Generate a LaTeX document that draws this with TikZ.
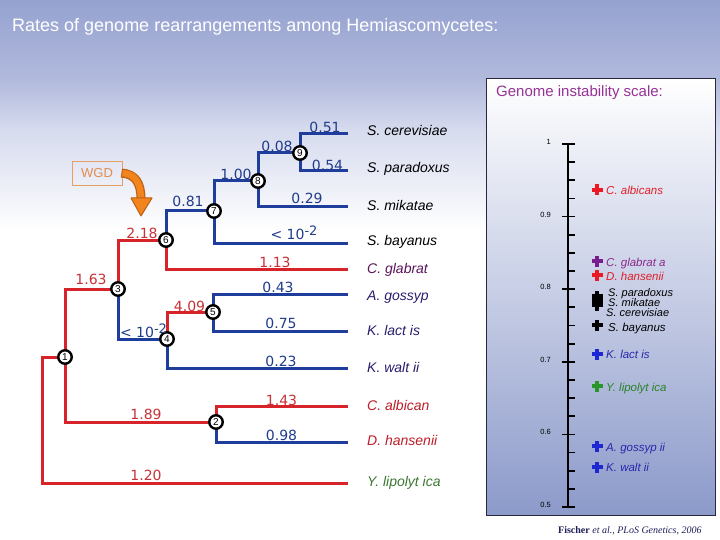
\documentclass[tikz,border=0pt]{standalone}
\usepackage{fontspec}
\setmainfont{Liberation Sans}
\newfontfamily\dvfont{DejaVu Sans}
\newfontfamily\serfont{Liberation Serif}
\definecolor{bgA}{RGB}{149,162,208}
\definecolor{bgB}{RGB}{178,186,221}
\definecolor{bgC}{RGB}{214,219,238}
\definecolor{boxbot}{RGB}{140,154,202}
\definecolor{boxline}{RGB}{40,40,60}
\definecolor{treeblue}{RGB}{31,62,156}
\definecolor{treered}{RGB}{214,36,42}
\definecolor{labblue}{RGB}{32,60,140}
\definecolor{labred}{RGB}{200,50,55}
\definecolor{cpurp}{RGB}{90,20,90}
\definecolor{cnavy}{RGB}{40,30,110}
\definecolor{cred}{RGB}{190,30,40}
\definecolor{cgreen}{RGB}{60,120,50}
\definecolor{titpurp}{RGB}{150,50,150}
\definecolor{mred}{RGB}{235,25,35}
\definecolor{mpurp}{RGB}{120,30,140}
\definecolor{mblue}{RGB}{30,40,210}
\definecolor{mgreen}{RGB}{40,150,40}
\definecolor{slred}{RGB}{225,30,40}
\definecolor{slpurp}{RGB}{140,40,140}
\definecolor{slblue}{RGB}{40,40,170}
\definecolor{slgreen}{RGB}{40,130,40}
\definecolor{fnavy}{RGB}{30,30,90}
\definecolor{wgdtext}{RGB}{225,140,80}
\definecolor{wgdborder}{RGB}{230,160,100}
\definecolor{arrorange}{RGB}{242,132,30}
\definecolor{arrdark}{RGB}{190,95,20}
\pgfdeclarelayer{bglayer}
\pgfdeclarelayer{lines}
\pgfsetlayers{bglayer,lines,main}
\tikzset{
  bl/.style={draw=treeblue, line width=3pt, line cap=rect},
  rd/.style={draw=treered, line width=3pt, line cap=rect},
  nd/.style={circle, draw=black, line width=2.4pt, fill=white, minimum size=13.5pt, inner sep=0pt, font=\fontsize{10}{10}\selectfont},
  blab/.style={font=\dvfont\fontsize{14}{14}\selectfont, text=labblue, anchor=base, inner sep=0pt},
  rlab/.style={font=\dvfont\fontsize{14}{14}\selectfont, text=labred, anchor=base, inner sep=0pt},
  leaf/.style={font=\itshape\fontsize{14}{14}\selectfont, anchor=base west, inner sep=0pt},
  slab/.style={font=\itshape\fontsize{11.5}{11.5}\selectfont, anchor=base west, inner sep=0pt},
  tlab/.style={font=\fontsize{7.5}{7.5}\selectfont, anchor=east, inner sep=0pt},
  pics/plusm/.style={code={
    \fill[#1] (-5.5,-2.3) rectangle (5.5,2.3);
    \fill[#1] (-2.3,-5.5) rectangle (2.3,5.5);}}
}
\begin{document}
\begin{tikzpicture}[x=1pt,y=-1pt]
\useasboundingbox (0,0) rectangle (720,540);
\begin{pgfonlayer}{bglayer}
\fill[top color=bgA, bottom color=bgB] (0,0) rectangle (720,80.5);
\fill[top color=bgB, bottom color=bgC] (0,80) rectangle (720,130.5);
\fill[top color=bgC, bottom color=white] (0,130) rectangle (720,230.5);
\fill[white] (0,230) rectangle (720,540);
\shadedraw[draw=boxline, line width=1pt, top color=white, bottom color=boxbot] (486,79) rectangle (715,515);
\end{pgfonlayer}

% title
\node[anchor=base west, text=white, font=\fontsize{18}{18}\selectfont, inner sep=0pt] (title) at (12,32) {Rates of genome rearrangements among Hemiascomycetes:};

% tree nodes
\node[nd] (n9) at (300,153) {9};
\node[nd] (n8) at (258,181) {8};
\node[nd] (n7) at (214,211) {7};
\node[nd] (n6) at (166,240) {6};
\node[nd] (n3) at (118,289) {3};
\node[nd] (n5) at (213,312) {5};
\node[nd] (n4) at (167,339) {4};
\node[nd] (n1) at (65,357) {1};
\node[nd] (n2) at (216,422) {2};
\coordinate (r0) at (42,357);
\coordinate (eSc) at (346,134);
\coordinate (eSp) at (346,171);
\coordinate (eSm) at (346,207);
\coordinate (eSb) at (346,243);
\coordinate (eCg) at (346,269);
\coordinate (eAg) at (346,294);
\coordinate (eKl) at (346,331);
\coordinate (eKw) at (346,368);
\coordinate (eCa) at (346,406);
\coordinate (eDh) at (346,442);
\coordinate (eYl) at (346,483);

\begin{pgfonlayer}{lines}
\draw[bl] (n9.center) |- (eSc);
\draw[bl] (n9.center) |- (eSp);
\draw[bl] (n8.center) |- (n9.center);
\draw[bl] (n8.center) |- (eSm);
\draw[bl] (n7.center) |- (n8.center);
\draw[bl] (n7.center) |- (eSb);
\draw[bl] (n6.center) |- (n7.center);
\draw[rd] (n6.center) |- (eCg);
\draw[rd] (n3.center) |- (n6.center);
\draw[bl] (n3.center) |- (n4.center);
\draw[rd] (n4.center) |- (n5.center);
\draw[bl] (n4.center) |- (eKw);
\draw[bl] (n5.center) |- (eAg);
\draw[bl] (n5.center) |- (eKl);
\draw[rd] (n1.center) |- (n3.center);
\draw[rd] (n1.center) |- (n2.center);
\draw[rd] (n2.center) |- (eCa);
\draw[bl] (n2.center) |- (eDh);
\draw[rd] (r0) -- (n1.center);
\draw[rd] (r0) |- (eYl);
\end{pgfonlayer}

% branch labels
\node[blab] (b1) at (325,133) {0.51};
\node[blab] (b2) at (327.5,170.5) {0.54};
\node[blab] (b3) at (277,152) {0.08};
\node[blab] (b4) at (236,180) {1.00};
\node[blab] (b5) at (307,204) {0.29};
\node[blab] (b6) at (188,207) {0.81};
\node[blab] (b7) at (294,240) {< 10\raisebox{4pt}{\fontsize{13}{13}\selectfont -2}};
\node[rlab] (b8) at (142,238) {2.18};
\node[rlab] (b9) at (275,267) {1.13};
\node[rlab] (b10) at (91,284) {1.63};
\node[blab] (b11) at (278,292) {0.43};
\node[rlab] (b12) at (189.5,311) {4.09};
\node[blab] (b13) at (143.5,337) {< 10\raisebox{4pt}{\fontsize{13}{13}\selectfont -2}};
\node[blab] (b14) at (281,328) {0.75};
\node[blab] (b15) at (281,366) {0.23};
\node[rlab] (b16) at (281.5,405) {1.43};
\node[rlab] (b17) at (146,419) {1.89};
\node[blab] (b18) at (281.5,440) {0.98};
\node[rlab] (b19) at (146,480) {1.20};

% leaf labels
\node[leaf] (tSc) at (367,136) {S. cerevisiae};
\node[leaf] (tSp) at (367,173) {S. paradoxus};
\node[leaf] (tSm) at (367,211) {S. mikatae};
\node[leaf] (tSb) at (367,245) {S. bayanus};
\node[leaf, text=cpurp] (tCg) at (367,273) {C. glabrat};
\node[leaf, text=cnavy] (tAg) at (367,300) {A. gossyp};
\node[leaf, text=cnavy] (tKl) at (367,335) {K. lact is};
\node[leaf, text=cnavy] (tKw) at (367,372) {K. walt ii};
\node[leaf, text=cred] (tCa) at (367,410) {C. albican};
\node[leaf, text=cred] (tDh) at (367,445) {D. hansenii};
\node[leaf, text=cgreen] (tYl) at (367,486) {Y. lipolyt ica};

% WGD
\node[draw=wgdborder, line width=0.8pt, minimum width=50pt, minimum height=24pt, inner sep=0pt, text=wgdtext, font=\fontsize{13}{13}\selectfont] (wgd) at (97,173) {WGD};
\coordinate (wgdbase) at (141,199);
\coordinate (wgdtip) at (141,216);
\draw[line width=9pt, draw=arrdark] ([xshift=-1pt]wgd.east) .. controls (136,174) and (141,184) .. (wgdbase);
\draw[line width=6.5pt, draw=arrorange] (wgd.east) .. controls (136,174) and (141,184) .. ([yshift=-1pt]wgdbase);
\filldraw[fill=arrorange, draw=arrdark, line width=1pt, line join=round] (131,198) -- (152,198) -- (wgdtip) -- cycle;

% scale
\node[anchor=west, text=titpurp, font=\fontsize{15}{15}\selectfont, inner sep=0pt] (gis) at (496,93) {Genome instability scale:};
\draw[line width=2.5pt] (568,144) -- (568,507);
\foreach \i in {0,...,20} \draw[line width=1.8pt] (568,{144+\i*18.15}) -- (575,{144+\i*18.15});
\foreach \i/\t in {0/1,1/0.9,2/0.8,3/0.7,4/0.6,5/0.5} {
  \draw[line width=1.8pt] (562,{144+\i*72.6}) -- (575,{144+\i*72.6});
  \node[tlab] (tk\i) at (551,{142+\i*72.6}) {\t};
}
\pic at (597,190) {plusm=mred};
\pic at (597,261) {plusm=mpurp};
\pic at (597,275) {plusm=mred};
\pic at (597,296) {plusm=black};
\pic at (597,300.5) {plusm=black};
\pic at (597,305) {plusm=black};
\pic at (597,325) {plusm=black};
\pic at (597,354) {plusm=mblue};
\pic at (597,386) {plusm=mgreen};
\pic at (597,446) {plusm=mblue};
\pic at (597,467) {plusm=mblue};
\node[slab, text=slred] (sCa) at (606,195) {C. albicans};
\node[slab, text=slpurp] (sCg) at (606,266) {C. glabrat a};
\node[slab, text=slred] (sDh) at (606,280) {D. hansenii};
\node[slab, font=\itshape\fontsize{11}{11}\selectfont] (sSp) at (608,296.5) {S. paradoxus};
\node[slab, font=\itshape\fontsize{11}{11}\selectfont] (sSm) at (608,306.5) {S. mikatae};
\node[slab, font=\itshape\fontsize{11}{11}\selectfont] (sSc) at (606,316) {S. cerevisiae};
\node[slab] (sSb) at (608,331) {S. bayanus};
\node[slab, text=slblue] (sKl) at (606,358) {K. lact is};
\node[slab, text=slgreen] (sYl) at (606,391) {Y. lipolyt ica};
\node[slab, text=slblue] (sAg) at (606,451) {A. gossyp ii};
\node[slab, text=slblue] (sKw) at (606,471) {K. walt ii};

% citation
\node[anchor=base west, text=fnavy, font=\serfont\fontsize{10}{10}\selectfont, inner sep=0pt] (cite) at (558,533) {\textbf{Fischer} \textit{et al., PLoS Genetics, 2006}};
\end{tikzpicture}
\end{document}
